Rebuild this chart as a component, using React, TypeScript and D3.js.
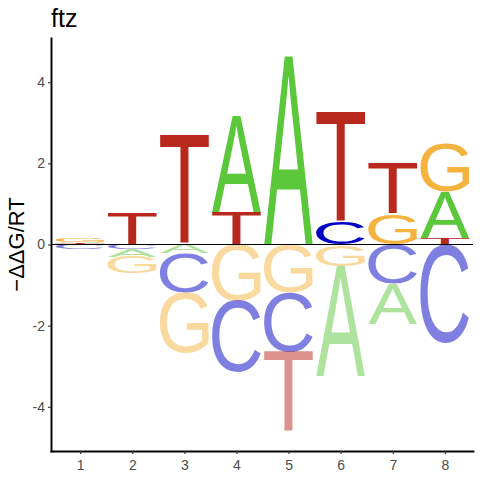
import * as d3 from "d3";
import { useEffect, useRef } from "react";

// ftz energy logo: -ddG/RT per base and position
const positions = [1, 2, 3, 4, 5, 6, 7, 8];
const bases = ["A", "C", "G", "T"];
const valuesA = [0.04, -0.2, -0.22, 2.36, 4.65, -2.72, -0.99, 1.13];
const valuesC = [-0.12, -0.11, -0.97, -1.77, -1.45, 0.54, -0.96, -2.43];
const valuesG = [0.09, -0.41, -1.48, -1.38, -1.19, -0.53, 0.75, 1.2];
const valuesT = [0.03, 0.76, 2.7, 0.8, -1.99, 2.72, 1.24, 0.17];
const yTicks = [-4, -2, 0, 2, 4];
const title = "ftz";
const yLabel = "\u2212\u0394\u0394G/RT";

const baseValues: Record<string, number[]> = {
  A: valuesA,
  C: valuesC,
  G: valuesG,
  T: valuesT,
};
const colors: Record<string, string> = {
  A: "#5bc73b",
  C: "#0000c4",
  G: "#f4b33e",
  T: "#b9281d",
};

const width = 480;
const height = 480;
const margin = { top: 38, right: 7, bottom: 29, left: 51 };
const font = '"Liberation Sans", Arial, sans-serif';
const glyphSize = 100;
const letterWidth = 0.94;

export default function App() {
  const chartRef = useRef<HTMLDivElement>(null);

  useEffect(() => {
    if (!chartRef.current) return;

    // ink bounds of each glyph, so letters can be stretched to fill a box
    const ctx = document.createElement("canvas").getContext("2d")!;
    ctx.font = `${glyphSize}px ${font}`;
    const ink: Record<string, { l: number; r: number; a: number; d: number }> = {};
    bases.forEach((b) => {
      const m = ctx.measureText(b);
      ink[b] = {
        l: m.actualBoundingBoxLeft,
        r: m.actualBoundingBoxRight,
        a: m.actualBoundingBoxAscent,
        d: m.actualBoundingBoxDescent,
      };
    });

    const svg = d3
      .select(chartRef.current)
      .append("svg")
      .attr("width", width)
      .attr("height", height)
      .style("display", "block")
      .style("background", "#fff");

    const x = d3
      .scaleLinear()
      .domain([0.44, 8.54])
      .range([margin.left, width - margin.right]);

    const y = d3
      .scaleLinear()
      .domain([-5.09, 5.09])
      .range([height - margin.bottom, margin.top]);

    // stack letters: smallest magnitude nearest zero
    const letters: { base: string; pos: number; lo: number; hi: number; neg: boolean }[] = [];
    positions.forEach((p, i) => {
      const col = bases.map((b) => ({ base: b, v: baseValues[b][i] }));
      let up = 0;
      col
        .filter((d) => d.v > 0)
        .sort((a, b) => a.v - b.v)
        .forEach((d) => {
          letters.push({ base: d.base, pos: p, lo: up, hi: up + d.v, neg: false });
          up += d.v;
        });
      let down = 0;
      col
        .filter((d) => d.v < 0)
        .sort((a, b) => b.v - a.v)
        .forEach((d) => {
          letters.push({ base: d.base, pos: p, lo: down + d.v, hi: down, neg: true });
          down += d.v;
        });
    });

    svg
      .append("g")
      .selectAll("text")
      .data(letters)
      .join("text")
      .attr("font-family", font)
      .attr("font-size", glyphSize)
      .attr("fill", (d) => colors[d.base])
      .attr("fill-opacity", (d) => (d.neg ? 0.5 : 1))
      .attr("transform", (d) => {
        const m = ink[d.base];
        const x0 = x(d.pos - letterWidth / 2);
        const w = x(d.pos + letterWidth / 2) - x0;
        const yTop = y(d.hi);
        const h = y(d.lo) - yTop;
        return `translate(${x0},${yTop}) scale(${w / (m.l + m.r)},${h / (m.a + m.d)}) translate(${m.l},${m.a})`;
      })
      .text((d) => d.base);

    // zero line
    svg
      .append("line")
      .attr("x1", margin.left)
      .attr("x2", width - margin.right)
      .attr("y1", y(0))
      .attr("y2", y(0))
      .attr("stroke", "#000")
      .attr("stroke-width", 1.1);

    const xAxis = svg
      .append("g")
      .attr("transform", `translate(0,${height - margin.bottom})`)
      .call(d3.axisBottom(x).tickValues(positions).tickFormat(d3.format("d")).tickSize(3).tickSizeOuter(0).tickPadding(6.5));

    const yAxis = svg
      .append("g")
      .attr("transform", `translate(${margin.left},0)`)
      .call(d3.axisLeft(y).tickValues(yTicks).tickFormat((d) => String(d)).tickSize(3).tickSizeOuter(0).tickPadding(3));

    [xAxis, yAxis].forEach((g) => {
      g.select(".domain").attr("stroke", "#000").attr("stroke-width", 1.9).attr("stroke-linecap", "square");
      g.selectAll(".tick line").attr("stroke", "#333").attr("stroke-width", 1.1);
      g.selectAll(".tick text")
        .attr("fill", "#4d4d4d")
        .attr("font-size", 14)
        .attr("font-family", font);
    });

    svg
      .append("text")
      .attr("x", margin.left)
      .attr("y", 26.7)
      .attr("font-family", font)
      .attr("font-size", 25)
      .attr("fill", "#000")
      .text(title);

    svg
      .append("text")
      .attr("transform", `translate(24,${y(0)}) rotate(-90)`)
      .attr("text-anchor", "middle")
      .attr("font-family", font)
      .attr("font-size", 22)
      .attr("fill", "#000")
      .text(yLabel);

    // Cleanup
    return () => {
      d3.select(chartRef.current).selectAll("*").remove();
    };
  }, []);

  return <div ref={chartRef} style={{ position: "absolute", left: 0, top: 0 }} />;
}
